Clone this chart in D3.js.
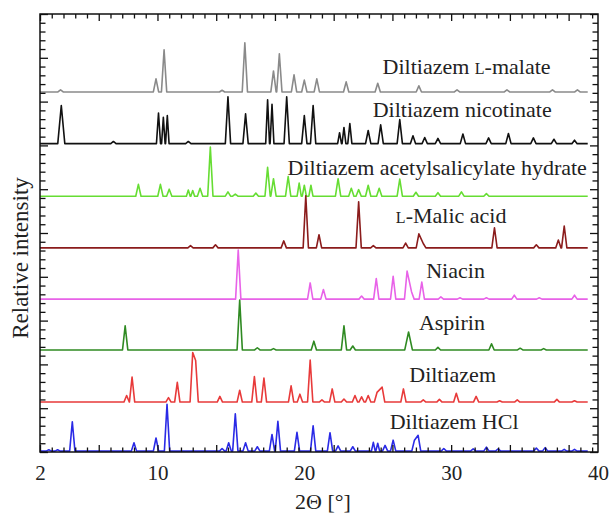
<!DOCTYPE html>
<html>
<head>
<meta charset="utf-8">
<script src="https://cdn.jsdelivr.net/npm/d3@7"></script>
<style>
  body { margin: 0; background: #fff; }
</style>
</head>
<body>
<div id="vis"></div>
<script>
const margin = { top: 14, right: 12, bottom: 64, left: 40 };
const width = 610 - margin.left - margin.right;
const height = 516 - margin.top - margin.bottom;
const fontName = "Liberation Serif";

// x axis (2Θ) and y axis (relative intensity, arbitrary units)
const xDomain = [2, 40];
const yDomain = [0, 10];
const xTickLabels = [2, 10, 20, 30, 40];
const traceEnd = 39.3;

const names = [
  "malate", "nicotinate", "acetylsalicylate", "malic",
  "niacin", "aspirin", "diltiazem", "hcl",
];
const colors = [
  "#8a8a8a", "#111111", "#66dd33", "#8b1c1c",
  "#e862e8", "#2f8a22", "#e83a3a", "#2a2ae6",
];
// baseline of each pattern, in y units
const offsets = [8.22, 7.04, 5.84, 4.66, 3.49, 2.33, 1.14, 0.02];

// peaks: [2Θ, height above baseline, optional half width]
const peaksMalate = [
  [3.4, 0.05], [9.9, 0.3], [10.45, 0.96], [14.4, 0.04], [15.95, 1.12],
  [17.9, 0.48], [18.3, 0.87], [19.3, 0.39], [20.0, 0.27], [20.85, 0.3],
  [22.85, 0.23], [25.0, 0.2], [27.8, 0.14], [30.4, 0.05], [33.8, 0.05],
  [36.9, 0.05], [38.6, 0.05],
];
const peaksNicotinate = [
  [3.45, 0.87, 0.24], [7.0, 0.05], [10.07, 0.7, 0.14], [10.4, 0.6, 0.12],
  [10.67, 0.64, 0.12], [12.1, 0.05], [14.8, 1.07], [16.0, 0.68],
  [17.5, 1.0, 0.13], [17.8, 0.9, 0.13], [18.8, 1.07], [20.0, 0.64],
  [20.6, 0.87], [22.4, 0.25, 0.13], [22.7, 0.37, 0.13], [23.1, 0.46, 0.14],
  [24.35, 0.3], [25.2, 0.43], [26.5, 0.55], [27.4, 0.18], [28.2, 0.14],
  [29.1, 0.12], [30.8, 0.22], [32.55, 0.13], [33.9, 0.23], [35.6, 0.13],
  [37.0, 0.1], [38.4, 0.08],
];
const peaksAcetylsalicylate = [
  [8.7, 0.27], [10.2, 0.27], [10.8, 0.16], [12.1, 0.14, 0.13], [12.4, 0.13, 0.13],
  [12.9, 0.18], [13.6, 1.12], [14.8, 0.1], [15.3, 0.05], [16.7, 0.07],
  [17.5, 0.66], [17.9, 0.4], [18.9, 0.45], [19.65, 0.3, 0.14], [20.0, 0.25, 0.14],
  [20.45, 0.25, 0.14], [22.3, 0.4], [23.2, 0.18], [23.7, 0.15], [24.35, 0.25],
  [25.1, 0.18], [26.5, 0.39], [27.6, 0.09], [29.1, 0.08], [30.7, 0.1],
  [32.4, 0.06],
];
const peaksMalic = [
  [12.25, 0.05], [13.95, 0.07], [18.6, 0.16], [20.1, 1.19], [21.0, 0.3],
  [23.7, 1.05], [24.7, 0.05], [26.9, 0.11], [27.8, 0.32], [28.1, 0.1],
  [32.95, 0.46], [35.8, 0.07], [37.3, 0.18], [37.7, 0.5],
];
const peaksNiacin = [
  [15.5, 1.12], [20.4, 0.37], [21.3, 0.22], [23.9, 0.07], [24.9, 0.47],
  [26.05, 0.52], [27.0, 0.64], [27.3, 0.17], [28.0, 0.39], [29.3, 0.05],
  [30.6, 0.03], [32.4, 0.03], [34.3, 0.09], [36.0, 0.03], [38.4, 0.09],
];
const peaksAspirin = [
  [7.8, 0.55], [15.6, 1.14], [16.8, 0.05], [17.9, 0.03], [20.65, 0.2],
  [22.7, 0.55], [23.3, 0.09], [27.1, 0.41, 0.26], [29.1, 0.06], [32.75, 0.14],
  [34.7, 0.04], [36.3, 0.03],
];
const peaksDiltiazem = [
  [7.9, 0.15], [8.27, 0.57], [10.75, 0.1], [11.35, 0.45], [12.4, 1.13],
  [12.6, 0.95], [14.25, 0.13], [15.6, 0.27], [16.6, 0.58], [17.25, 0.55],
  [19.1, 0.37], [19.7, 0.18], [20.4, 0.96], [21.2, 0.05], [21.9, 0.3],
  [22.7, 0.07], [23.45, 0.15], [23.9, 0.12], [24.35, 0.15], [24.95, 0.22],
  [25.3, 0.34], [26.75, 0.3], [28.1, 0.05], [29.2, 0.06], [30.35, 0.2],
  [31.7, 0.13], [33.3, 0.03], [34.5, 0.05], [37.2, 0.06], [38.4, 0.03],
];
const peaksHcl = [
  [2.6, 0.03], [3.2, 0.03], [4.2, 0.67], [8.4, 0.19], [9.9, 0.3],
  [10.65, 1.07], [14.4, 0.06], [14.85, 0.19], [15.3, 0.85], [16.0, 0.19],
  [16.8, 0.1], [17.8, 0.38], [18.2, 0.68], [19.5, 0.43], [20.6, 0.58],
  [21.75, 0.42], [22.3, 0.12], [23.3, 0.1], [24.7, 0.2, 0.13], [25.0, 0.18, 0.13],
  [25.5, 0.13], [26.05, 0.25], [27.5, 0.25], [27.75, 0.36], [29.5, 0.06],
  [31.5, 0.05], [32.4, 0.09], [33.2, 0.05], [35.8, 0.07], [36.4, 0.08],
  [37.7, 0.04], [38.4, 0.04],
];
const peaks = [
  peaksMalate, peaksNicotinate, peaksAcetylsalicylate, peaksMalic,
  peaksNiacin, peaksAspirin, peaksDiltiazem, peaksHcl,
];

// text labels: [2Θ of centre, y units of baseline]
const labelPos = [
  [31.05, 8.63], [30.75, 7.65], [29.05, 6.32], [30.0, 5.23],
  [30.3, 3.97], [30.05, 2.78], [30.1, 1.6], [30.2, 0.53],
];

const root = d3
  .select("#vis")
  .append("svg")
  .attr("width", width + margin.left + margin.right)
  .attr("height", height + margin.top + margin.bottom)
  .attr("font-family", fontName);

const svg = root
  .append("g")
  .attr("transform", `translate(${margin.left},${margin.top})`);

const xScale = d3.scaleLinear().domain(xDomain).range([0, width]);
const yScale = d3.scaleLinear().domain(yDomain).range([height, 0]);

const halfWidth = 0.18;

function tracePoints(list) {
  const pts = [];
  list.forEach((p) => {
    const hw = p[2] || halfWidth;
    pts.push([p[0] - hw, 0], [p[0], p[1]], [p[0] + hw, 0]);
  });
  const kept = pts.filter(
    (pt) =>
      pt[1] > 0 ||
      !list.some((p) => Math.abs(pt[0] - p[0]) < (p[2] || halfWidth) - 1e-6),
  );
  kept.push([xDomain[0], 0], [traceEnd, 0]);
  return kept.sort((a, b) => a[0] - b[0]);
}

const line = d3.line();

peaks.forEach((list, i) => {
  svg
    .append("path")
    .attr("class", "trace " + names[i])
    .attr("fill", "none")
    .attr("stroke", colors[i])
    .attr("stroke-width", 1.6)
    .attr("stroke-linejoin", "round")
    .attr(
      "d",
      line(tracePoints(list).map((d) => [xScale(d[0]), yScale(d[1] + offsets[i])])),
    );
});

// ticks, all pointing inwards
const xMajor = d3.range(2, 40.01, 4);
const xMinor = d3.range(2, 40.01, 0.8).filter((v) => (v - 2) % 4 > 0.01 && (v - 2) % 4 < 3.99);
const yMajor = d3.range(0, 10.01, 1);
const yMinor = d3.range(0, 10.01, 0.2).filter((v) => Math.abs(v - Math.round(v)) > 0.01);

function tickAxis(axisFn, scale, values, size, transform) {
  svg
    .append("g")
    .attr("class", "axis")
    .attr("transform", transform)
    .call(axisFn(scale).tickValues(values).tickSize(size).tickSizeOuter(0).tickFormat(""))
    .call((g) => g.select(".domain").remove())
    .call((g) => g.selectAll("line").attr("stroke", "#111").attr("stroke-width", 1.3));
}

tickAxis(d3.axisBottom, xScale, xMajor, -7, `translate(0,${height})`);
tickAxis(d3.axisBottom, xScale, xMinor, -4.5, `translate(0,${height})`);
tickAxis(d3.axisTop, xScale, xMajor, -7, "translate(0,0)");
tickAxis(d3.axisTop, xScale, xMinor, -4.5, "translate(0,0)");
tickAxis(d3.axisLeft, yScale, yMajor, -8, "translate(0,0)");
tickAxis(d3.axisLeft, yScale, yMinor, -5.5, "translate(0,0)");
tickAxis(d3.axisRight, yScale, yMajor, -8, `translate(${width},0)`);
tickAxis(d3.axisRight, yScale, yMinor, -5.5, `translate(${width},0)`);

svg
  .append("rect")
  .attr("width", width)
  .attr("height", height)
  .attr("fill", "none")
  .attr("stroke", "#111")
  .attr("stroke-width", 1.5);

// tick labels
svg
  .append("g")
  .attr("class", "axis labels")
  .attr("transform", `translate(0,${height})`)
  .call(d3.axisBottom(xScale).tickValues(xTickLabels).tickSize(0).tickPadding(13))
  .attr("font-family", fontName)
  .attr("font-size", 21)
  .call((g) => g.select(".domain").remove())
  .call((g) => g.selectAll("text").attr("fill", "#222"));

svg
  .append("text")
  .attr("x", width / 2 + 4)
  .attr("y", height + 57)
  .attr("text-anchor", "middle")
  .attr("font-family", fontName)
  .attr("font-size", 22)
  .attr("fill", "#222")
  .text("2Θ [°]");

svg
  .append("text")
  .attr("transform", "rotate(-90)")
  .attr("x", -(height / 2 + 25))
  .attr("y", -12)
  .attr("text-anchor", "middle")
  .attr("font-family", fontName)
  .attr("font-size", 23)
  .attr("fill", "#222")
  .text("Relative intensity");

// series labels
const labelTexts = [
  null, "Diltiazem nicotinate", "Diltiazem acetylsalicylate hydrate", null,
  "Niacin", "Aspirin", "Diltiazem", "Diltiazem HCl",
];

labelPos.forEach((p, i) => {
  const t = svg
    .append("text")
    .attr("x", xScale(p[0]))
    .attr("y", yScale(p[1]))
    .attr("text-anchor", "middle")
    .attr("font-family", fontName)
    .attr("font-size", 22)
    .attr("fill", "#222");
  if (i === 0) {
    t.append("tspan").text("Diltiazem ");
    t.append("tspan").attr("font-size", 16).text("L");
    t.append("tspan").text("-malate");
  } else if (i === 3) {
    t.append("tspan").attr("font-size", 16).text("L");
    t.append("tspan").text("-Malic acid");
  } else {
    t.text(labelTexts[i]);
  }
});
</script>
</body>
</html>
